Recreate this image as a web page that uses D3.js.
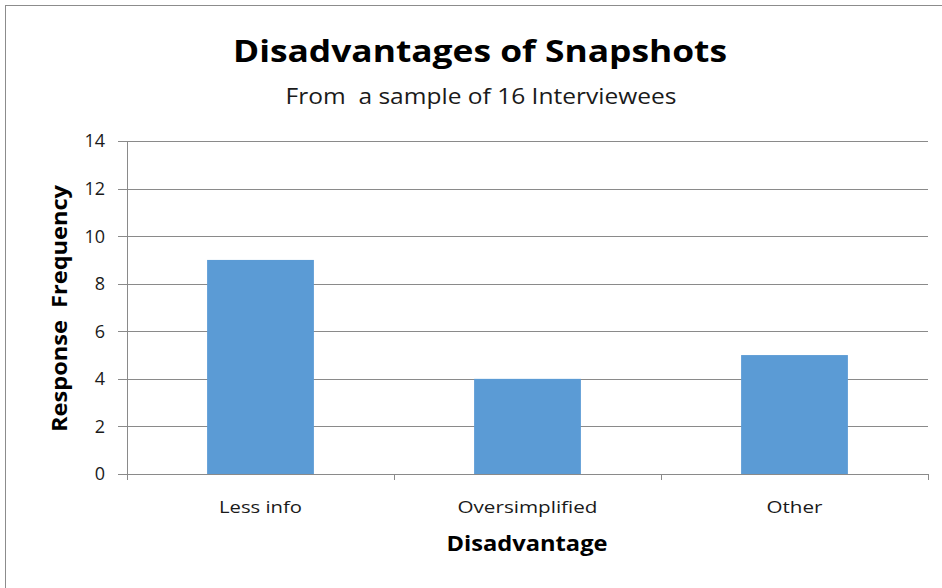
<!DOCTYPE html>
<html><head><meta charset="utf-8">
<script src="https://cdn.jsdelivr.net/npm/d3@7"></script>
<style>body{margin:0;background:#fff;} svg{display:block;} text{white-space:pre;}</style>
</head><body>
<svg id="chart" width="942" height="588"></svg>
<script>
const categories = ["Less info", "Oversimplified", "Other"];
const values = [9, 4, 5];
const yTicks = [0, 2, 4, 6, 8, 10, 12, 14];
const title = "Disadvantages of Snapshots";
const subtitle = "From  a sample of 16 Interviewees";
const xTitle = "Disadvantage";
const yTitle = "Response  Frequency";

(function () {
const svg = d3.select("#chart");
const font = "'Open Sans', Lato, sans-serif";
const labelWidths = {"Less info": 83, "Oversimplified": 140, "Other": 56};
// outer frame
svg.append("rect").attr("x", 5.5).attr("y", 5.5).attr("width", 960).attr("height", 600)
  .attr("fill", "#fff").attr("stroke", "#8c8c8c").attr("stroke-width", 1);

const pL = 127, pR = 928, pT = 141, pB = 474;
const x = d3.scaleBand().domain(categories).range([pL, pR]).paddingInner(0.6).paddingOuter(0.3);
const xb = d3.scaleBand().domain(categories).range([pL, pR]);
const y = d3.scaleLinear().domain([0, 14]).range([pB, pT]);

// gridlines
svg.append("g").selectAll("line").data(yTicks).join("line")
  .attr("x1", pL - 9).attr("x2", pR)
  .attr("y1", d => Math.round(y(d)) + 0.5).attr("y2", d => Math.round(y(d)) + 0.5)
  .attr("stroke", "#8a8a8a").attr("stroke-width", 1);

// bars
svg.append("g").selectAll("rect").data(values).join("rect")
  .attr("x", (d, i) => x(categories[i]))
  .attr("width", x.bandwidth())
  .attr("y", d => y(d))
  .attr("height", d => y(0) - y(d))
  .attr("fill", "#5b9bd5");

// y axis line
svg.append("line").attr("x1", pL + 0.5).attr("x2", pL + 0.5).attr("y1", pT).attr("y2", pB + 5)
  .attr("stroke", "#8a8a8a");
// x axis line + ticks
svg.append("line").attr("x1", pL).attr("x2", pR).attr("y1", pB + 0.5).attr("y2", pB + 0.5)
  .attr("stroke", "#8a8a8a");
const xt = [pL, ...categories.map(c => xb(c) + xb.bandwidth())];
svg.append("g").selectAll("line").data(xt).join("line")
  .attr("x1", d => Math.round(d) + 0.5).attr("x2", d => Math.round(d) + 0.5)
  .attr("y1", pB).attr("y2", pB + 6).attr("stroke", "#8a8a8a");

// y tick labels
svg.append("g").selectAll("text").data(yTicks).join("text")
  .attr("x", 105).attr("y", d => y(d)).attr("dy", "0.36em")
  .attr("text-anchor", "end").attr("font-family", font).attr("font-size", 18)
  .attr("fill", "#1a1a1a").text(d => d);

// x labels
svg.append("g").selectAll("text").data(categories).join("text")
  .attr("x", c => xb(c) + xb.bandwidth() / 2).attr("y", 513)
  .attr("text-anchor", "middle").attr("font-family", font).attr("font-size", 17)
  .attr("textLength", c => labelWidths[c]).attr("lengthAdjust", "spacingAndGlyphs")
  .attr("fill", "#1a1a1a").text(d => d);

// titles
svg.append("text").attr("x", 480).attr("y", 62).attr("text-anchor", "middle")
  .attr("font-family", font).attr("font-weight", "bold").attr("font-size", 31)
  .attr("textLength", 494).attr("lengthAdjust", "spacingAndGlyphs")
  .attr("fill", "#000").text(title);
svg.append("text").attr("x", 481).attr("y", 104).attr("text-anchor", "middle")
  .attr("font-family", font).attr("font-size", 21)
  .attr("textLength", 391).attr("lengthAdjust", "spacingAndGlyphs")
  .attr("fill", "#1a1a1a").text(subtitle);
svg.append("text").attr("x", 527).attr("y", 551).attr("text-anchor", "middle")
  .attr("font-family", font).attr("font-weight", "bold").attr("font-size", 22)
  .attr("textLength", 161).attr("lengthAdjust", "spacingAndGlyphs")
  .attr("fill", "#000").text(xTitle);
svg.append("text").attr("transform", "translate(67,308.5) rotate(-90)").attr("text-anchor", "middle")
  .attr("font-family", font).attr("font-weight", "bold").attr("font-size", 22)
  .attr("textLength", 247).attr("lengthAdjust", "spacingAndGlyphs")
  .attr("fill", "#000").text(yTitle);
})();
</script>
</body></html>
